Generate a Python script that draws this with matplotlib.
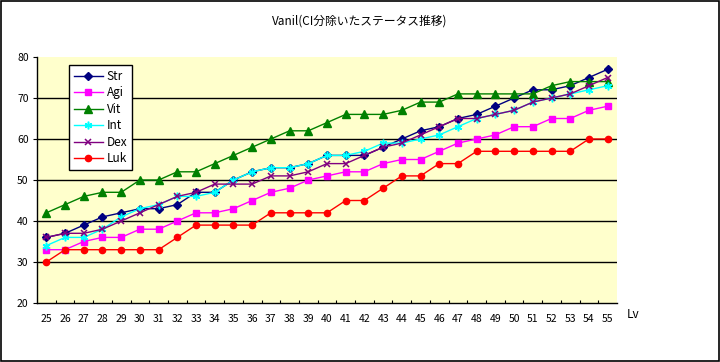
import matplotlib
matplotlib.use("Agg")
import matplotlib.pyplot as plt
from matplotlib.patches import Rectangle
from matplotlib.ticker import FixedLocator, NullFormatter

levels = list(range(25, 56))
str_vals = [36, 37, 39, 41, 42, 43, 43, 44, 47, 47, 50, 52,
            53, 53, 54, 56, 56, 56, 58, 60, 62, 63, 65,
            66, 68, 70, 72, 72, 73, 75, 77]
agi_vals = [33, 33, 35, 36, 36, 38, 38, 40, 42, 42, 43, 45,
            47, 48, 50, 51, 52, 52, 54, 55, 55, 57, 59,
            60, 61, 63, 63, 65, 65, 67, 68]
vit_vals = [42, 44, 46, 47, 47, 50, 50, 52, 52, 54, 56, 58,
            60, 62, 62, 64, 66, 66, 66, 67, 69, 69, 71,
            71, 71, 71, 71, 73, 74, 74, 74]
int_vals = [34, 36, 36, 38, 41, 43, 44, 46, 46, 47, 50, 52,
            53, 53, 54, 56, 56, 57, 59, 59, 60, 61, 63,
            65, 66, 67, 69, 70, 71, 72, 73]
dex_vals = [36, 37, 37, 38, 40, 42, 44, 46, 47, 49, 49, 49,
            51, 51, 52, 54, 54, 56, 58, 59, 61, 63, 65,
            65, 66, 67, 69, 70, 71, 73, 75]
luk_vals = [30, 33, 33, 33, 33, 33, 33, 36, 39, 39, 39, 39,
            42, 42, 42, 42, 45, 45, 48, 51, 51, 54, 54,
            57, 57, 57, 57, 57, 57, 60, 60]

series_names = ["Str", "Agi", "Vit", "Int", "Dex", "Luk"]
series_data = [str_vals, agi_vals, vit_vals, int_vals, dex_vals, luk_vals]
y_ticks = [20, 30, 40, 50, 60, 70, 80]
title_text = "Vanil(CI分除いたステータス推移)"
x_label = "Lv"

styles = [
    dict(color="#000080", marker="D", ms=4.0),
    dict(color="#FF00FF", marker="s", ms=5.0),
    dict(color="#008000", marker="^", ms=5.5),
    dict(color="#00FFFF", marker=(6, 2, 0), ms=5.5, mew=1.1),
    dict(color="#800080", marker="x", ms=4.5, mew=1.1),
    dict(color="#FF0000", marker="o", ms=4.5),
]

plt.rcParams['font.family'] = ['Noto Sans CJK JP', 'DejaVu Sans']

fig = plt.figure(figsize=(7.2, 3.62), dpi=100)
fig.patch.set_facecolor("white")
fig.patches.append(Rectangle((0.001, 0.002), 0.997, 0.996, transform=fig.transFigure,
                             fill=False, edgecolor="black", lw=1.2))

ax = fig.add_axes([37/720, 1 - 303/362, 580/720, 246/362])
ax.set_facecolor("#FFFFCC")

xs = list(range(len(levels)))
for name, vals, st in zip(series_names, series_data, styles):
    ax.plot(xs, vals, color=st["color"], lw=1.0, marker=st["marker"],
            ms=st["ms"], mew=st.get("mew", 1.0), mfc=st["color"], mec=st["color"],
            label=name, zorder=3)

ax.set_xlim(-0.5, len(levels) - 0.5)
ax.set_ylim(20, 80)
ax.set_yticks(y_ticks)
for yv in y_ticks[1:-1]:
    ax.axhline(yv, color="black", lw=1.0, zorder=1)

ax.set_xticks(xs)
ax.set_xticklabels([str(v) for v in levels], fontsize=7.5)
ax.tick_params(axis="x", which="major", length=0, pad=8)
ax.xaxis.set_minor_locator(FixedLocator([i + 0.5 for i in range(len(levels) - 1)]))
ax.xaxis.set_minor_formatter(NullFormatter())
ax.tick_params(axis="x", which="minor", direction="in", length=2.5, width=0.8)
ax.tick_params(axis="y", direction="out", length=3, width=0.8, labelsize=7.5, pad=3)

for s in ["top", "right"]:
    ax.spines[s].set_visible(False)
for s in ["left", "bottom"]:
    ax.spines[s].set_linewidth(1.0)

fig.text(627/720, 1 - 315/362, x_label, fontsize=8.5, ha="left", va="center")
fig.text(0.5, 1 - 21/362, title_text, fontsize=8.5, ha="center", va="center")

leg = ax.legend(loc="upper left", bbox_to_anchor=((69 - 37)/580, (303 - 65)/246),
                fontsize=8.5, frameon=True, fancybox=False, framealpha=1,
                edgecolor="black", handlelength=2.5, handletextpad=0.3,
                labelspacing=0.3, borderpad=0.4, borderaxespad=0)
leg.get_frame().set_linewidth(1.0)
leg.set_zorder(5)

fig.savefig("out.png", dpi=100, facecolor="white")
